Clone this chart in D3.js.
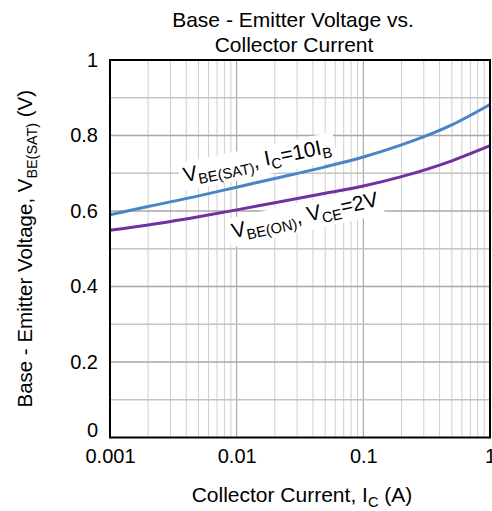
<!DOCTYPE html>
<html>
<head>
<meta charset="utf-8">
<script src="https://cdn.jsdelivr.net/npm/d3@7"></script>
<style>
  body { margin: 0; background: #fff; }
  svg { display: block; font-family: "Liberation Sans", Arial, sans-serif; }
</style>
</head>
<body>
<div id="chart"></div>
<script>
// collector current (A)
const current = [0.001, 0.002, 0.005, 0.01, 0.02, 0.05, 0.1, 0.2, 0.5, 1];
const vbeSat = [0.590, 0.612, 0.640, 0.663, 0.686, 0.717, 0.743, 0.775, 0.828, 0.882];
const vbeOn = [0.549, 0.563, 0.585, 0.603, 0.622, 0.647, 0.666, 0.691, 0.733, 0.773];
const xTicks = [0.001, 0.01, 0.1, 1];
const yTicks = [0, 0.2, 0.4, 0.6, 0.8, 1];

const width = 492, height = 511;
const mLeft = 110, mRight = 490, mTop = 60, mBottom = 437.5;

const svg = d3.select("#chart").append("svg")
  .attr("width", width)
  .attr("height", height);

const x = d3.scaleLog().domain([0.001, 1]).range([mLeft, mRight]);
const y = d3.scaleLinear().domain([0, 1]).range([mBottom, mTop]);

// grid
const minorX = [];
for (let dec = 0.001; dec < 1; dec *= 10) {
  for (let k = 2; k <= 9; k++) minorX.push(dec * k);
}
const grid = svg.append("g");
grid.selectAll(".vminor").data(minorX).enter().append("line")
  .attr("x1", d => x(d)).attr("x2", d => x(d))
  .attr("y1", mTop).attr("y2", mBottom)
  .attr("stroke", "#cfcfcf").attr("stroke-width", 1);
grid.selectAll(".vmajor").data([0.01, 0.1]).enter().append("line")
  .attr("x1", d => x(d)).attr("x2", d => x(d))
  .attr("y1", mTop).attr("y2", mBottom)
  .attr("stroke", "#9c9c9c").attr("stroke-width", 1);
grid.selectAll(".h").data(d3.range(1, 10).map(i => i / 10)).enter().append("line")
  .attr("x1", mLeft).attr("x2", mRight)
  .attr("y1", d => y(d)).attr("y2", d => y(d))
  .attr("stroke", (d, i) => i % 2 ? "#a8a8a8" : "#c4c4c4")
  .attr("stroke-width", 1.5);

// curves
const line = (vals) => d3.line()
  .x((d, i) => x(current[i]))
  .y(d => y(d))
  .curve(d3.curveMonotoneX)(vals);

svg.append("path").attr("d", line(vbeSat))
  .attr("fill", "none").attr("stroke", "#4a84c4").attr("stroke-width", 3);
svg.append("path").attr("d", line(vbeOn))
  .attr("fill", "none").attr("stroke", "#7030a0").attr("stroke-width", 3);

// frame
svg.append("rect")
  .attr("x", mLeft).attr("y", mTop)
  .attr("width", mRight - mLeft).attr("height", mBottom - mTop)
  .attr("fill", "none").attr("stroke", "#000").attr("stroke-width", 2);

// axes
const xAxis = svg.append("g")
  .attr("transform", `translate(0,${mBottom})`)
  .call(d3.axisBottom(x).tickValues(xTicks).tickSize(0).tickPadding(11)
    .tickFormat(d => String(d)));
xAxis.select(".domain").remove();
xAxis.selectAll("text").attr("font-size", 20).attr("fill", "#000")
  .attr("font-family", "Liberation Sans, Arial, sans-serif");

const yAxis = svg.append("g")
  .attr("transform", `translate(${mLeft},0)`)
  .call(d3.axisLeft(y).tickValues(yTicks).tickSize(0).tickPadding(12)
    .tickFormat(d => (d === 0 || d === 1) ? String(d) : d.toFixed(1)));
yAxis.select(".domain").remove();
yAxis.selectAll("text").attr("font-size", 20).attr("fill", "#000")
  .attr("font-family", "Liberation Sans, Arial, sans-serif")
  .attr("dy", d => d === 0 ? "-0.05em" : "0.32em");

// text with subscripts: each tspan after a subscript shifts back up
function richText(sel, parts, size) {
  const shift = size * 0.22;
  let down = false;
  parts.forEach(p => {
    const ts = sel.append("tspan");
    if (p.sub) {
      ts.attr("font-size", size * 0.7).attr("dy", shift).text(p.sub);
      down = true;
    } else {
      ts.attr("font-size", size).text(p.t);
      if (down) ts.attr("dy", -shift);
      down = false;
    }
  });
}

// title
const title = svg.append("text").attr("text-anchor", "middle").attr("font-size", 21);
title.append("tspan").attr("x", 293).attr("y", 27).text("Base - Emitter Voltage vs.");
title.append("tspan").attr("x", 294).attr("y", 52).text("Collector Current");

// x title
const xt = svg.append("text").attr("x", 302).attr("y", 502)
  .attr("text-anchor", "middle");
richText(xt, [{ t: "Collector Current, I" }, { sub: "C" }, { t: " (A)" }], 21);

// y title
const yt = svg.append("text")
  .attr("transform", `translate(32,${(mTop + mBottom) / 2}) rotate(-90)`)
  .attr("text-anchor", "middle");
richText(yt, [{ t: "Base - Emitter Voltage, V" }, { sub: "BE(SAT)" }, { t: " (V)" }], 20.5);

// curve labels on white boxes
const notes = [
  { I: 0.0039, V: 0.676, angle: -11.5,
    parts: [{ t: "V" }, { sub: "BE(SAT)" }, { t: ", I" }, { sub: "C" }, { t: "=10I" }, { sub: "B" }] },
  { I: 0.0094, V: 0.528, angle: -12.5,
    parts: [{ t: "V" }, { sub: "BE(ON)" }, { t: ", V" }, { sub: "CE" }, { t: "=2V" }] }
];
notes.forEach(n => {
  const g = svg.append("g")
    .attr("transform", `translate(${x(n.I)},${y(n.V)}) rotate(${n.angle})`);
  const t = g.append("text");
  richText(t, n.parts, 21);
  const b = t.node().getBBox();
  g.insert("rect", "text")
    .attr("x", b.x - 4).attr("y", b.y - 1)
    .attr("width", b.width + 8).attr("height", b.height + 2)
    .attr("fill", "#fff");
});
</script>
</body>
</html>
